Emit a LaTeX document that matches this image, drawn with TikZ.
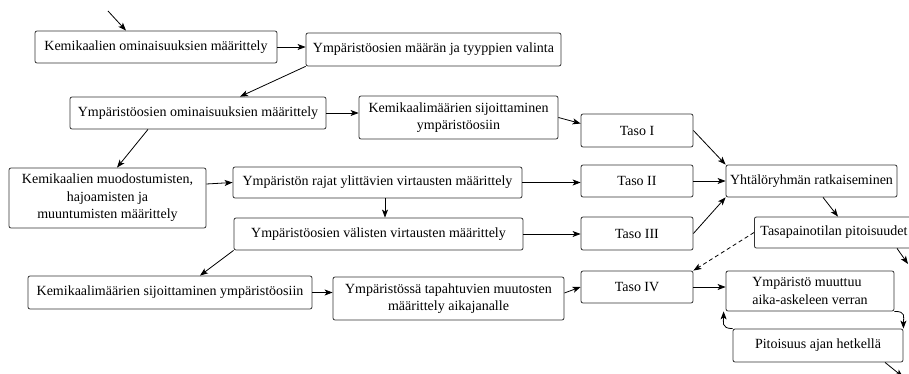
\documentclass[tikz,border=0pt]{standalone}
\usepackage{fontspec}
\setmainfont{Liberation Serif}
\usetikzlibrary{arrows.meta,calc}
\tikzset{
  box/.style={draw=black!80, line width=0.8pt, rounded corners=2pt, inner sep=0pt,
    align=center, font=\fontsize{14}{17.5}\selectfont, text=black},
  arr/.style={draw=black, line width=0.8pt, -{Stealth[length=8pt,width=6pt,inset=2pt]}},
  dasharr/.style={arr, dash pattern=on 4pt off 3pt}
}
\begin{document}
\begin{tikzpicture}[x=1pt,y=-1pt]
\useasboundingbox (0,0) rectangle (909,374);
\clip (0,0) rectangle (909,374);
% nodes
\node[box, minimum width=242, minimum height=32] (n1) at (156,47) {Kemikaalien ominaisuuksien määrittely};
\node[box, minimum width=255, minimum height=33] (n2) at (433.5,49.5) {Ympäristöosien määrän ja tyyppien valinta};
\node[box, minimum width=256, minimum height=32] (n3) at (198,113) {Ympäristöosien ominaisuuksien määrittely};
\node[box, minimum width=199, minimum height=43] (n4) at (458.5,117.5) {Kemikaalimäärien sijoittaminen\\ympäristöosiin};
\node[box, minimum width=112, minimum height=33] (t1) at (637,130.5) {Taso I};
\node[box, minimum width=112, minimum height=32] (t2) at (637,181) {Taso II};
\node[box, minimum width=112, minimum height=33] (t3) at (637,233.5) {Taso III};
\node[box, minimum width=112, minimum height=32] (t4) at (637,287) {Taso IV};
\node[box, minimum width=171, minimum height=32] (y) at (811.5,181) {Yhtälöryhmän ratkaiseminen};
\node[box, minimum height=31, inner xsep=6pt, anchor=west] (tp) at (754,232.5) {Tasapainotilan pitoisuudet};
\node[box, minimum width=197, minimum height=60] (n5) at (107.5,198) {Kemikaalien muodostumisten,\\hajoamisten ja\\muuntumisten määrittely};
\node[box, minimum width=289, minimum height=31] (n6) at (377.5,182.5) {Ympäristön rajat ylittävien virtausten määrittely};
\node[box, minimum width=289, minimum height=32] (n7) at (378.5,234) {Ympäristöosien välisten virtausten määrittely};
\node[box, minimum width=284, minimum height=33] (n8) at (170,292.5) {Kemikaalimäärien sijoittaminen ympäristöosiin};
\node[box, minimum width=231, minimum height=43] (n9) at (448.5,298.5) {Ympäristössä tapahtuvien muutosten\\määrittely aikajanalle};
\node[box, align=left, minimum width=168, minimum height=40] (m) at (810,291) {Ympäristö muuttuu\\aika-askeleen verran};
\node[box, minimum width=170, minimum height=33] (p) at (818,345.5) {Pitoisuus ajan hetkellä};
% free ends
\coordinate (s0) at (108,11);
\coordinate (e1) at (908,264);
\coordinate (e2) at (903,377);
% connectors
\draw[arr] (s0) -- ([xshift=-30pt]n1.north);
\draw[arr] (n1.east) -- (n1.east -| n2.west);
\draw[arr] (n2.south west) -- ([xshift=42pt]n3.north);
\draw[arr] (n3.east) -- (n3.east -| n4.west);
\draw[arr] (n4.east) -- ([yshift=7pt]t1.west);
\draw[arr] (t1.east) -- (y.north west);
\draw[arr] (t2.east) -- (y.west);
\draw[arr] (t3.east) -- (y.south west);
\draw[arr] ([xshift=11.5pt]y.south) -- ([xshift=84pt]tp.north west);
\draw[dasharr] (tp.west) -- (t4.north east);
\draw[arr] ([xshift=143pt]tp.south west) -- (e1);
\draw[arr] ([xshift=-50pt]n3.south) -- ([xshift=9.5pt]n5.north);
\draw[arr] ([yshift=14pt]n5.east) -- (n6.west);
\draw[arr] (n6.east) -- (n6.east -| t2.west);
\draw[arr] ([xshift=7.5pt]n6.south) -- ([xshift=7.5pt]n6.south |- n7.north);
\draw[arr] (n7.east) -- (n7.east -| t3.west);
\draw[arr] (n7.south west) -- ([xshift=30pt]n8.north);
\draw[arr] (n8.east) -- (n8.east -| n9.west);
\draw[arr] ([yshift=5.5pt]n9.east) -- (t4.west);
\draw[arr] (t4.east) -- (t4.east -| m.west);
\draw[arr] (m.south east) .. controls +(12,0) and +(0,-12) .. (p.north east);
\draw[arr] (p.north west) .. controls +(-12,0) and +(0,10) .. ([xshift=-2pt]m.south west);
\draw[arr] ([xshift=67pt]p.south) -- (e2);
\end{tikzpicture}
\end{document}
